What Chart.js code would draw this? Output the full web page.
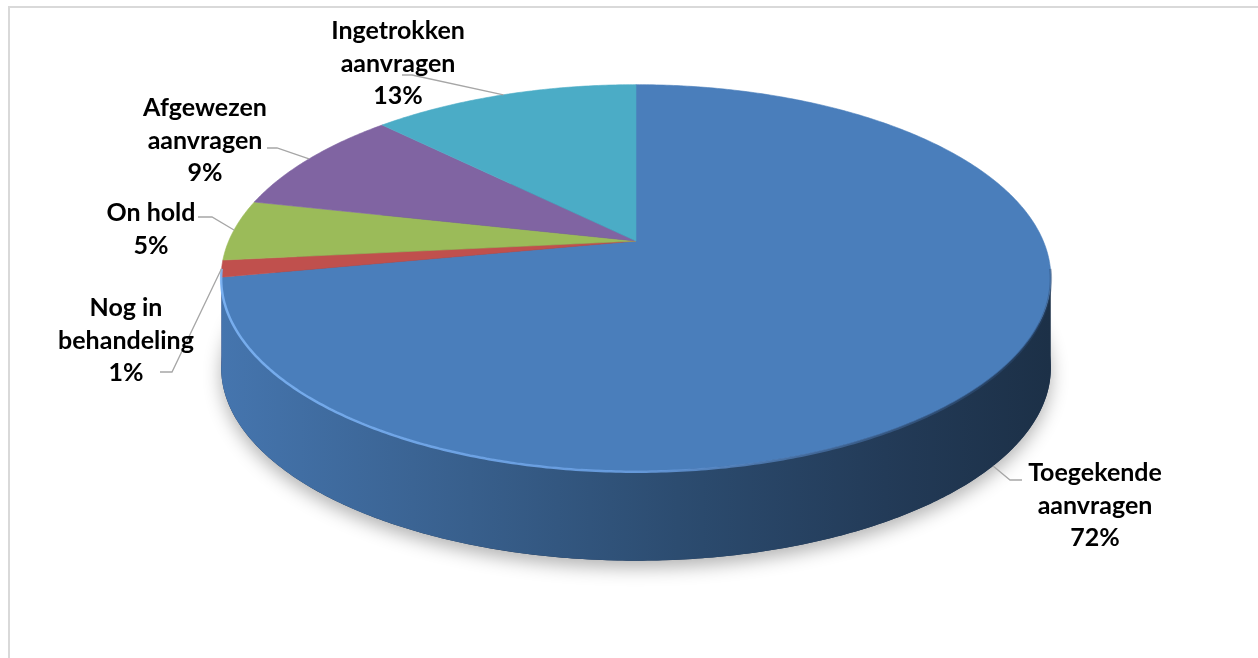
<!DOCTYPE html>
<html>
<head>
<meta charset="utf-8">
<script src="https://cdn.jsdelivr.net/npm/chart.js@4/dist/chart.umd.min.js"></script>
<style>
  html, body { margin: 0; padding: 0; background: #fff; }
  #wrap { width: 1258px; height: 658px; position: relative; }
</style>
</head>
<body>
<div id="wrap"><canvas id="pieChart"></canvas></div>
<script>
const categories = ['Toegekende aanvragen', 'Nog in behandeling', 'On hold', 'Afgewezen aanvragen', 'Ingetrokken aanvragen'];
const labelLines = [['Toegekende', 'aanvragen'], ['Nog in', 'behandeling'], ['On hold'], ['Afgewezen', 'aanvragen'], ['Ingetrokken', 'aanvragen']];
const shares = [72, 1.4, 5.1, 9, 12.5];
const topColors = ['#4a7ebb', '#c0504d', '#9bbb59', '#8064a2', '#4bacc6'];

// label layout: centre x / first line y, and the two leader points next to the label
const labelPos = [[1095, 473], [126, 308], [151, 213], [205, 108], [398, 31]];
const leaderEnds = [[[1022, 480], [1010, 480]], [[160, 372], [172, 372]], [[198, 217], [212, 217]], [[267, 148], [277, 148]], [[402, 75], [412, 75]]];

// fake 3D: tilt (perspective), horizontal / vertical stretch of the radius, wall height
const TILT = 0.19;
const RX = 1.69;
const RY = 0.772;
const DEPTH = 90;

function shade(hex, f) {
    const n = parseInt(hex.slice(1), 16);
    const r = Math.round(((n >> 16) & 255) * f);
    const g = Math.round(((n >> 8) & 255) * f);
    const b = Math.round((n & 255) * f);
    return 'rgb(' + r + ',' + g + ',' + b + ')';
}

function proj(el, t, dz) {
    const u = Math.cos(t), v = Math.sin(t);
    const w = 1 - TILT * v;
    return [el.x + el.outerRadius * RX * u / w, el.y + el.outerRadius * RY * v / w + (dz || 0)];
}

function rimPath(ctx, el, a, b, dz, first) {
    const steps = Math.max(2, Math.ceil(Math.abs(b - a) / 0.01));
    for (let i = 0; i <= steps; i++) {
        const p = proj(el, a + (b - a) * i / steps, dz);
        if (i === 0 && first) ctx.moveTo(p[0], p[1]); else ctx.lineTo(p[0], p[1]);
    }
}

const frame = {
    id: 'frame',
    beforeDraw(chart) {
        const ctx = chart.ctx;
        ctx.save();
        ctx.strokeStyle = '#d9d9d9';
        ctx.lineWidth = 2;
        ctx.strokeRect(9, 7, 1400, 800);
        ctx.restore();
    }
};

const pie3d = {
    id: 'pie3d',
    beforeDatasetsDraw(chart) {
        const ctx = chart.ctx;
        const arcs = chart.getDatasetMeta(0).data;
        const el0 = arcs[0];
        const t0 = Math.asin(TILT);
        const halfW = el0.outerRadius * RX / Math.sqrt(1 - TILT * TILT);

        // soft shadow under the disc
        ctx.save();
        ctx.shadowColor = 'rgba(0,0,0,0.3)';
        ctx.shadowBlur = 18;
        ctx.shadowOffsetY = 7;
        ctx.beginPath();
        rimPath(ctx, el0, 0, Math.PI * 2, DEPTH, true);
        ctx.closePath();
        ctx.fillStyle = '#1f3452';
        ctx.fill();
        ctx.restore();

        // front walls
        arcs.forEach((el, i) => {
            const lo = Math.max(el.startAngle, t0 - 0.02);
            const hi = Math.min(el.endAngle, Math.PI - t0 + 0.02);
            if (hi <= lo) return;
            const g = ctx.createLinearGradient(el.x - halfW, 0, el.x + halfW, 0);
            [[0, 0.93], [0.3, 0.75], [0.55, 0.6], [0.8, 0.47], [1, 0.38]].forEach(s => g.addColorStop(s[0], shade(topColors[i], s[1])));
            ctx.beginPath();
            rimPath(ctx, el, lo, hi, 0, true);
            rimPath(ctx, el, hi, lo, DEPTH, false);
            ctx.closePath();
            ctx.fillStyle = g;
            ctx.fill();
        });

        // top faces
        arcs.forEach((el, i) => {
            ctx.beginPath();
            ctx.moveTo(el.x, el.y);
            rimPath(ctx, el, el.startAngle, el.endAngle, 0, false);
            ctx.closePath();
            ctx.fillStyle = topColors[i];
            ctx.strokeStyle = topColors[i];
            ctx.lineWidth = 0.6;
            ctx.fill();
            ctx.stroke();
        });

        // bevel highlight on the front rim
        const hg = ctx.createLinearGradient(el0.x - halfW, 0, el0.x + halfW, 0);
        hg.addColorStop(0, 'rgba(125,180,245,0.9)');
        hg.addColorStop(0.5, 'rgba(110,165,235,0.85)');
        hg.addColorStop(1, 'rgba(40,70,110,0.4)');
        ctx.save();
        ctx.beginPath();
        rimPath(ctx, el0, t0 - 0.05, Math.PI - t0 + 0.05, 1, true);
        ctx.strokeStyle = hg;
        ctx.lineWidth = 2.5;
        ctx.stroke();
        ctx.restore();
        return false;
    },
    afterDraw(chart) {
        const ctx = chart.ctx;
        const arcs = chart.getDatasetMeta(0).data;
        const total = shares.reduce((a, b) => a + b, 0);
        const t0 = Math.asin(TILT);
        ctx.save();
        arcs.forEach((el, i) => {
            const mid = (el.startAngle + el.endAngle) / 2;
            const front = mid > t0 && mid < Math.PI - t0;
            const anchor = proj(el, mid, front ? DEPTH : 0);
            const ends = leaderEnds[i];
            ctx.beginPath();
            ctx.moveTo(ends[0][0], ends[0][1]);
            ctx.lineTo(ends[1][0], ends[1][1]);
            ctx.lineTo(anchor[0], anchor[1]);
            ctx.strokeStyle = '#a6a6a6';
            ctx.lineWidth = 1.3;
            ctx.stroke();

            const lines = labelLines[i].concat([Math.round(shares[i] / total * 100) + '%']);
            ctx.fillStyle = '#000';
            ctx.font = '700 25px Lato';
            ctx.textAlign = 'center';
            ctx.textBaseline = 'middle';
            lines.forEach((s, k) => ctx.fillText(s, labelPos[i][0], labelPos[i][1] + k * 32.5));
        });
        ctx.restore();
    }
};

new Chart(document.getElementById('pieChart'), {
    type: 'pie',
    data: {
        labels: categories,
        datasets: [{
            data: shares,
            backgroundColor: topColors,
            borderWidth: 0
        }]
    },
    options: {
        responsive: true,
        maintainAspectRatio: false,
        animation: false,
        layout: { padding: { left: 14, right: 0, top: 0, bottom: 176 } },
        plugins: {
            legend: { display: false },
            tooltip: { enabled: false }
        }
    },
    plugins: [frame, pie3d]
});
</script>
</body>
</html>
